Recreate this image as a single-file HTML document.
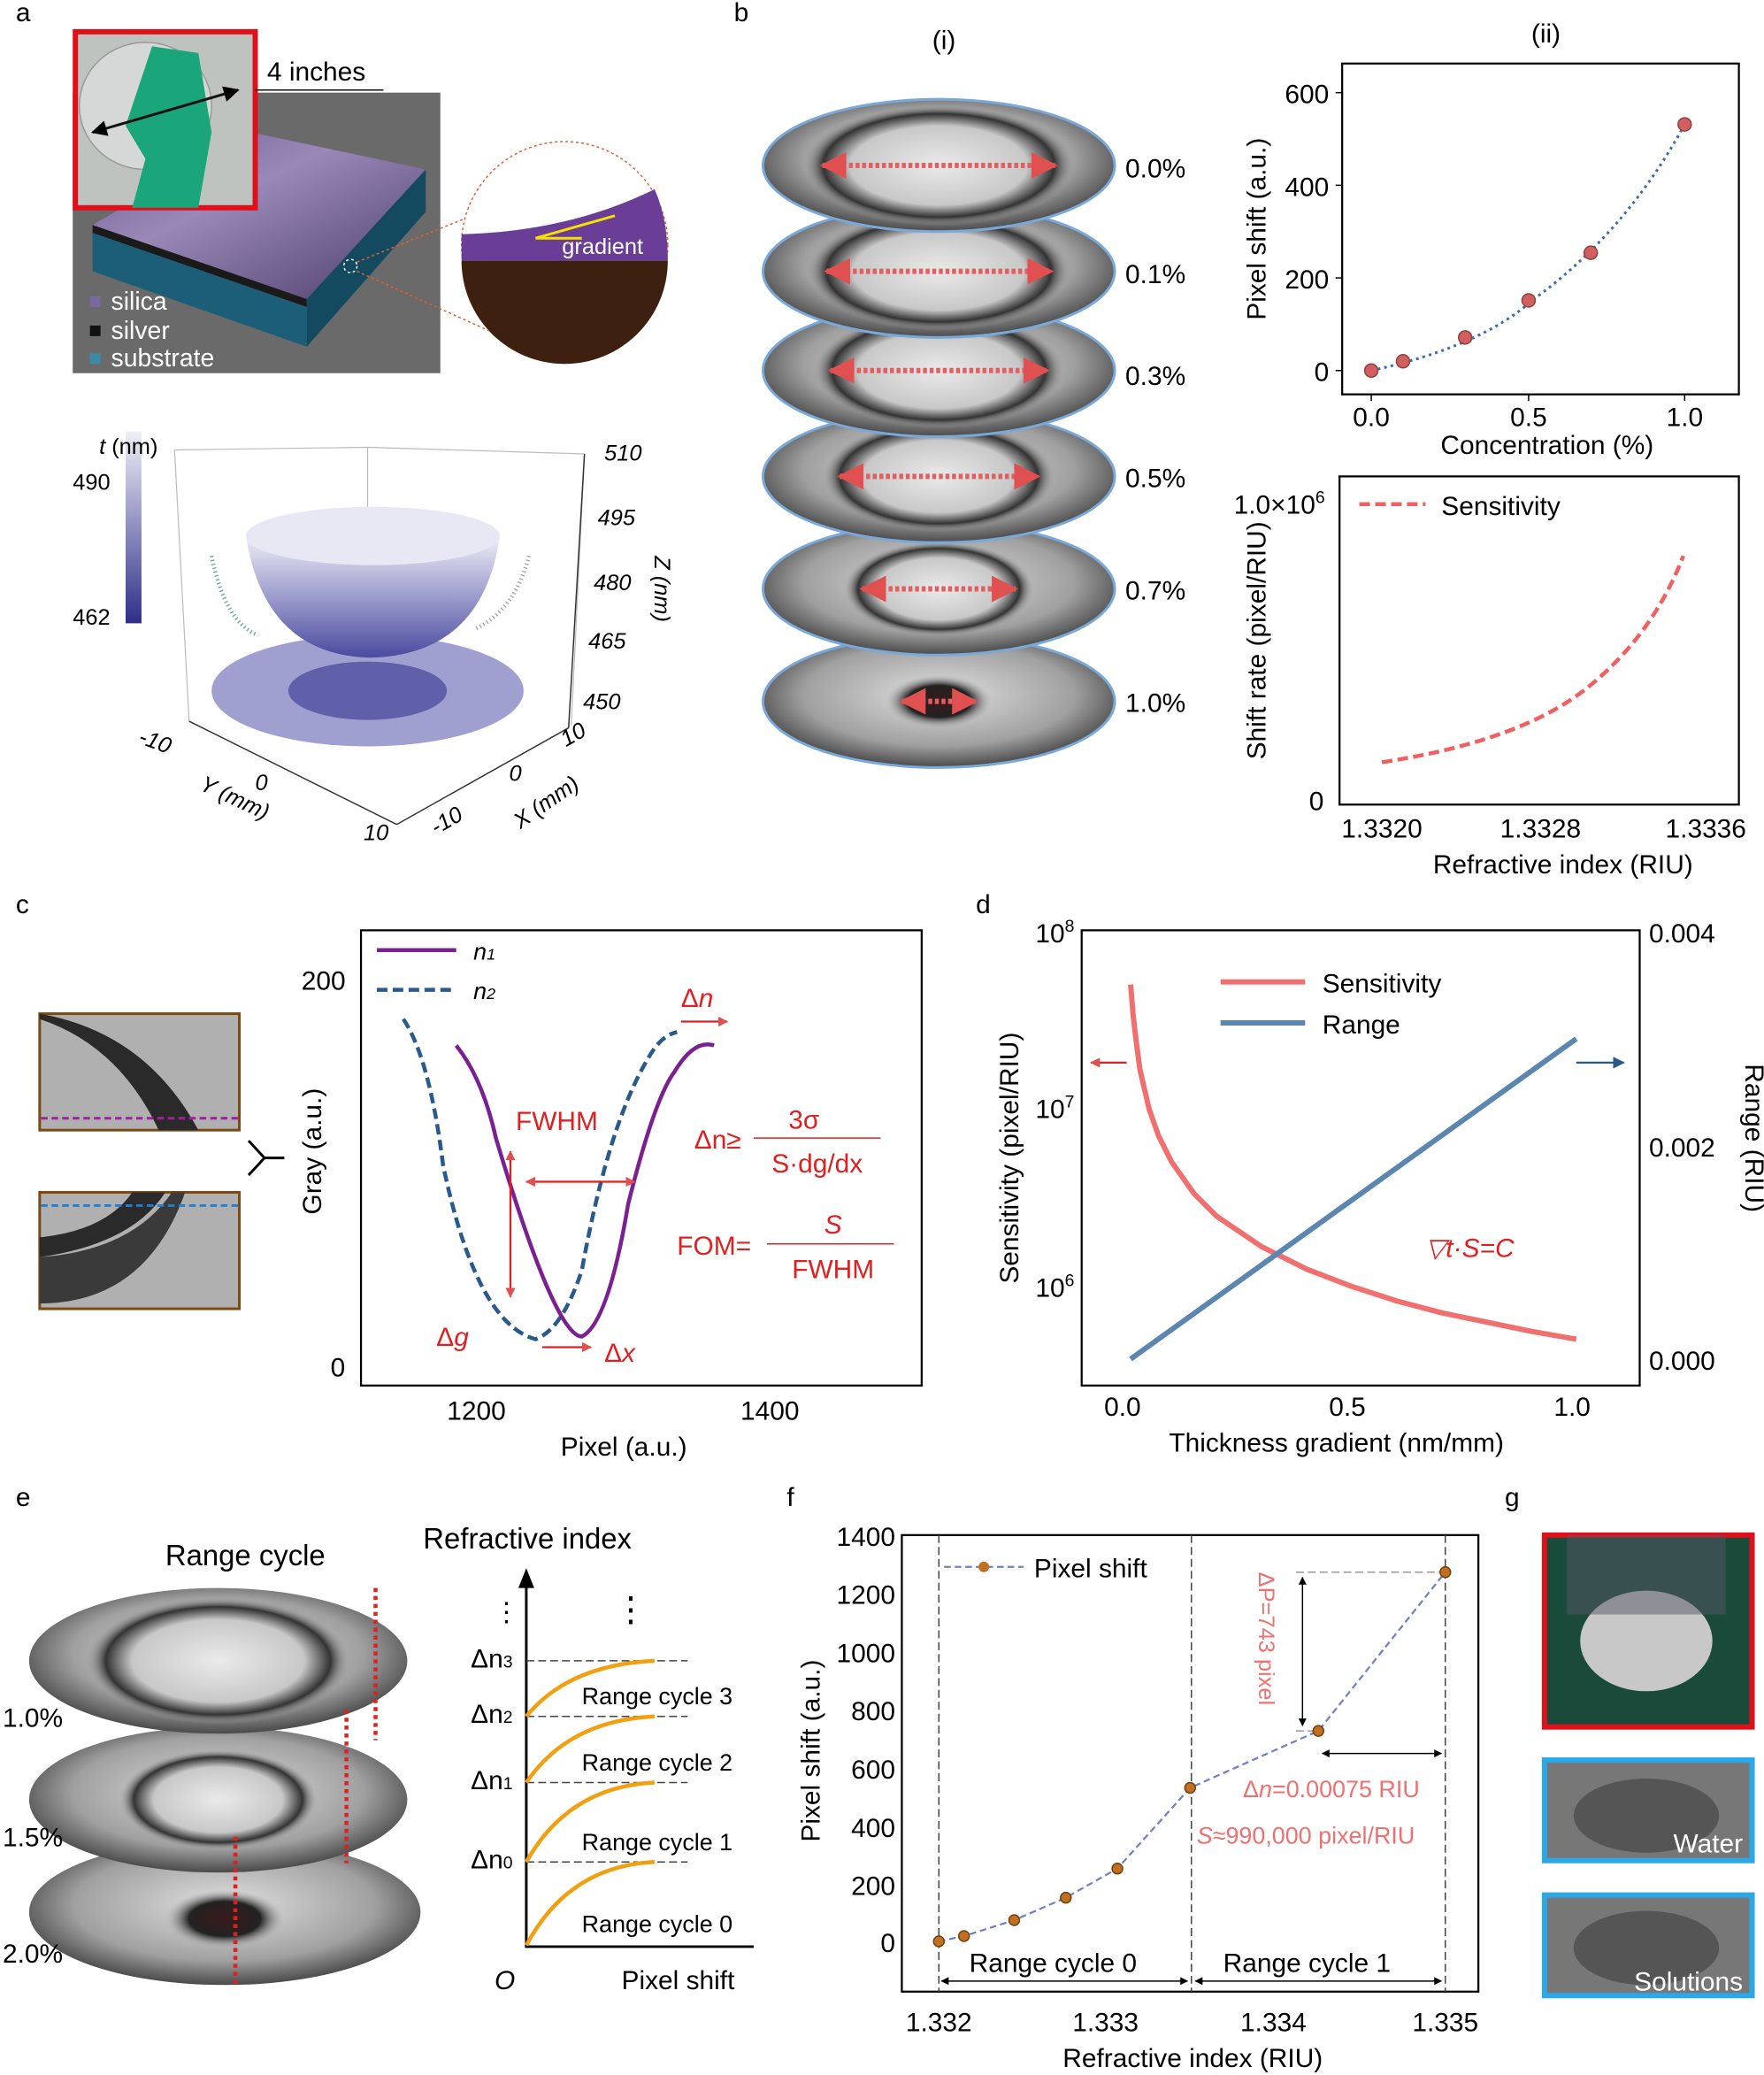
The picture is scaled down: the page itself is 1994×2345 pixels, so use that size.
<!DOCTYPE html><html><head><meta charset="utf-8"><style>html,body{margin:0;padding:0;background:#fff}svg{display:block}text{font-family:"Liberation Sans",sans-serif}</style></head><body>
<svg width="1994" height="2345" viewBox="0 0 1334 1568" preserveAspectRatio="none" xmlns="http://www.w3.org/2000/svg">
<defs>
<radialGradient id="plate" cx="50%" cy="45%" r="55%"><stop offset="0" stop-color="#e0e0e0"/><stop offset="0.7" stop-color="#a0a0a0"/><stop offset="1" stop-color="#4a4a4a"/></radialGradient>
<linearGradient id="bowl" x1="0" y1="0" x2="0" y2="1"><stop offset="0" stop-color="#eeeef8"/><stop offset="1" stop-color="#4a4aa0"/></linearGradient>
<linearGradient id="cbar" x1="0" y1="0" x2="0" y2="1"><stop offset="0" stop-color="#f0f0f8"/><stop offset="1" stop-color="#2e2e8a"/></linearGradient>
<linearGradient id="slab" x1="0" y1="0" x2="1" y2="1"><stop offset="0" stop-color="#6e5a90"/><stop offset="0.4" stop-color="#9a88b8"/><stop offset="1" stop-color="#4a3c6a"/></linearGradient>
<radialGradient id="ring" cx="50%" cy="50%" r="50%"><stop offset="0" stop-color="#eaeaea"/><stop offset="0.65" stop-color="#c8c8c8"/><stop offset="0.85" stop-color="#333"/><stop offset="1" stop-color="#aaa" stop-opacity="0"/></radialGradient>
<radialGradient id="spot" cx="50%" cy="50%" r="50%"><stop offset="0" stop-color="#3a1a1a"/><stop offset="0.6" stop-color="#222"/><stop offset="1" stop-color="#aaa" stop-opacity="0"/></radialGradient>
<marker id="ar" viewBox="0 0 10 10" refX="9" refY="5" markerWidth="5" markerHeight="5" orient="auto-start-reverse"><path d="M0,0 L10,5 L0,10 Z" fill="#e05050"/></marker>
<marker id="ak" viewBox="0 0 10 10" refX="9" refY="5" markerWidth="6" markerHeight="6" orient="auto-start-reverse"><path d="M0,0 L10,5 L0,10 Z" fill="#000"/></marker>
<marker id="ab" viewBox="0 0 10 10" refX="9" refY="5" markerWidth="6" markerHeight="6" orient="auto-start-reverse"><path d="M0,0 L10,5 L0,10 Z" fill="#2a5a8a"/></marker>
</defs>
<g font-size="20">
<text x="12" y="16">a</text><text x="555" y="16">b</text><text x="12" y="690">c</text><text x="738" y="690">d</text><text x="12" y="1138">e</text><text x="595" y="1138">f</text><text x="1138" y="1138">g</text>
</g>
<!-- panel a top -->
<rect x="55" y="70" width="278" height="212" fill="#6a6a6a"/>
<polygon points="70,170 190,100 322,128 232,226" fill="url(#slab)"/>
<polygon points="70,170 232,226 232,232 70,176" fill="#1a1a1a"/>
<polygon points="70,176 232,232 232,262 70,205" fill="#1c5e78"/>
<polygon points="232,226 322,128 322,160 232,262" fill="#144a60"/>
<rect x="57" y="24" width="136" height="133" fill="#bfc3c0" stroke="#e0101a" stroke-width="4"/>
<ellipse cx="110" cy="80" rx="50" ry="48" fill="#d5d8d6" stroke="#999"/>
<path d="M115,35 L150,40 L160,100 L150,157 L100,157 L110,120 L95,95 Z" fill="#1aa57a"/>
<line x1="70" y1="100" x2="180" y2="68" stroke="#111" stroke-width="2" marker-start="url(#ak)" marker-end="url(#ak)"/>
<line x1="193" y1="68" x2="290" y2="68" stroke="#111"/>
<text x="202" y="61" font-size="20">4 inches</text>
<circle cx="265" cy="201" r="5" fill="none" stroke="#fff" stroke-dasharray="2,2"/>
<circle cx="427" cy="185" r="78" fill="#fff" stroke="#e06030" stroke-dasharray="2,2"/>
<path d="M349,177 Q430,175 495,143 Q505,165 505,197 L349,197 Z" fill="#6a3e96"/>
<path d="M349,197 L505,197 A78,78 0 0 1 349,197 Z" fill="#3e2010"/>
<line x1="270" y1="198" x2="352" y2="165" stroke="#e06030" stroke-dasharray="2,2"/>
<line x1="270" y1="205" x2="370" y2="250" stroke="#e06030" stroke-dasharray="2,2"/>
<path d="M405,180 L465,163 M405,180 L440,180" stroke="#f5e000" stroke-width="2" fill="none"/>
<text x="425" y="192" font-size="17" fill="#fff">gradient</text>
<rect x="68" y="224" width="8" height="8" fill="#7a68a0"/><text x="84" y="234" font-size="19" fill="#fff">silica</text>
<rect x="68" y="246" width="8" height="8" fill="#111"/><text x="84" y="256" font-size="19" fill="#fff">silver</text>
<rect x="68" y="267" width="8" height="8" fill="#3a8aa8"/><text x="84" y="277" font-size="19" fill="#fff">substrate</text>
<!-- panel a 3D -->
<g stroke="#bbb" fill="none" stroke-width="0.8">
<polyline points="132,340 278,338 442,343"/><line x1="132" y1="340" x2="143" y2="545"/><line x1="278" y1="338" x2="278" y2="490"/><line x1="442" y1="343" x2="432" y2="548"/>
</g>
<g stroke="#333" fill="none" stroke-width="1">
<line x1="143" y1="545" x2="300" y2="623"/><line x1="300" y1="623" x2="430" y2="550"/><line x1="442" y1="343" x2="430" y2="550"/>
</g>
<rect x="95" y="326" width="12" height="145" fill="url(#cbar)"/>
<text x="75" y="343" font-size="17"><tspan font-style="italic">t</tspan> (nm)</text>
<text x="55" y="370" font-size="17">490</text><text x="55" y="472" font-size="17">462</text>
<ellipse cx="278" cy="522" rx="118" ry="42" fill="#8080c0" opacity="0.75"/>
<ellipse cx="278" cy="522" rx="60" ry="22" fill="#5050a0" opacity="0.8"/>
<path d="M186,405 Q200,495 280,497 Q365,495 378,405 Z" fill="url(#bowl)"/>
<ellipse cx="282" cy="405" rx="96" ry="22" fill="#e8e8f4"/>
<path d="M160,420 Q170,470 195,480" stroke="#7aaaa8" stroke-width="3" stroke-dasharray="1,2" fill="none"/>
<path d="M400,420 Q390,460 360,475" stroke="#aaa" stroke-width="3" stroke-dasharray="1,2" fill="none"/>
<g font-size="17" font-style="italic">
<text x="457" y="348">510</text><text x="452" y="397">495</text><text x="449" y="446">480</text><text x="445" y="490">465</text><text x="441" y="536">450</text>
<text x="105" y="565" transform="rotate(20 115 560)">-10</text><text x="193" y="597">0</text><text x="275" y="635">10</text>
<text x="150" y="603" transform="rotate(25 165 600)">Y (mm)</text>
<text x="325" y="627" transform="rotate(-30 335 620)">-10</text><text x="385" y="590">0</text><text x="426" y="563" transform="rotate(-30 430 560)">10</text>
<text x="385" y="620" transform="rotate(-35 400 610)">X (mm)</text>
<text x="490" y="425" transform="rotate(90 495 425)">Z (nm)</text>
</g>
<!-- panel b(i) -->
<text x="705" y="37" font-size="20">(i)</text>
<g>
<g transform="translate(710,530)"><ellipse rx="133" ry="50" fill="url(#plate)" stroke="#7aa8d8" stroke-width="2"/><ellipse rx="40" ry="20" fill="url(#spot)"/><line x1="-28" x2="28" stroke="#e06060" stroke-width="4" stroke-dasharray="3,2" marker-start="url(#ar)" marker-end="url(#ar)"/></g>
<g transform="translate(710,445)"><ellipse rx="133" ry="50" fill="url(#plate)" stroke="#7aa8d8" stroke-width="2"/><ellipse rx="72" ry="36" fill="url(#ring)"/><line x1="-58" x2="58" stroke="#e06060" stroke-width="4" stroke-dasharray="3,2" marker-start="url(#ar)" marker-end="url(#ar)"/></g>
<g transform="translate(710,360)"><ellipse rx="133" ry="50" fill="url(#plate)" stroke="#7aa8d8" stroke-width="2"/><ellipse rx="88" ry="42" fill="url(#ring)"/><line x1="-75" x2="75" stroke="#e06060" stroke-width="4" stroke-dasharray="3,2" marker-start="url(#ar)" marker-end="url(#ar)"/></g>
<g transform="translate(710,280)"><ellipse rx="133" ry="50" fill="url(#plate)" stroke="#7aa8d8" stroke-width="2"/><ellipse rx="95" ry="44" fill="url(#ring)"/><line x1="-82" x2="82" stroke="#e06060" stroke-width="4" stroke-dasharray="3,2" marker-start="url(#ar)" marker-end="url(#ar)"/></g>
<g transform="translate(710,205)"><ellipse rx="133" ry="50" fill="url(#plate)" stroke="#7aa8d8" stroke-width="2"/><ellipse rx="100" ry="45" fill="url(#ring)"/><line x1="-85" x2="85" stroke="#e06060" stroke-width="4" stroke-dasharray="3,2" marker-start="url(#ar)" marker-end="url(#ar)"/></g>
<g transform="translate(710,125)"><ellipse rx="133" ry="50" fill="url(#plate)" stroke="#7aa8d8" stroke-width="2"/><ellipse rx="103" ry="46" fill="url(#ring)"/><line x1="-88" x2="88" stroke="#e06060" stroke-width="4" stroke-dasharray="3,2" marker-start="url(#ar)" marker-end="url(#ar)"/></g>
</g>
<g font-size="20"><text x="851" y="134">0.0%</text><text x="851" y="214">0.1%</text><text x="851" y="291">0.3%</text><text x="851" y="368">0.5%</text><text x="851" y="453">0.7%</text><text x="851" y="538">1.0%</text></g>
<!-- b(ii) top -->
<text x="1158" y="32" font-size="20">(ii)</text>
<rect x="1015" y="48" width="300" height="250" fill="none" stroke="#000" stroke-width="1.5"/>
<g stroke="#000"><line x1="1010" y1="70" x2="1015" y2="70"/><line x1="1010" y1="140" x2="1015" y2="140"/><line x1="1010" y1="210" x2="1015" y2="210"/><line x1="1010" y1="280" x2="1015" y2="280"/><line x1="1037" y1="298" x2="1037" y2="303"/><line x1="1156" y1="298" x2="1156" y2="303"/><line x1="1274" y1="298" x2="1274" y2="303"/></g>
<g font-size="20" text-anchor="end"><text x="1005" y="78">600</text><text x="1005" y="148">400</text><text x="1005" y="218">200</text><text x="1005" y="288">0</text></g>
<g font-size="20" text-anchor="middle"><text x="1037" y="322">0.0</text><text x="1156" y="322">0.5</text><text x="1274" y="322">1.0</text><text x="1170" y="343">Concentration (%)</text></g>
<text x="957" y="173" font-size="20" text-anchor="middle" transform="rotate(-90 957 173)">Pixel shift (a.u.)</text>
<path d="M1037,280 Q1120,262 1160,226 Q1230,175 1274,94" fill="none" stroke="#3a6ab0" stroke-width="2" stroke-dasharray="2,3"/>
<g fill="#d06060" stroke="#904040"><circle cx="1037" cy="280" r="5"/><circle cx="1061" cy="273" r="5"/><circle cx="1108" cy="255" r="5"/><circle cx="1156" cy="227" r="5"/><circle cx="1203" cy="191" r="5"/><circle cx="1274" cy="94" r="5"/></g>
<!-- b(ii) bottom -->
<rect x="1013" y="360" width="302" height="248" fill="none" stroke="#000" stroke-width="1.5"/>
<text x="933" y="388" font-size="20">1.0×10<tspan font-size="13" dy="-8">6</tspan></text>
<text x="990" y="612" font-size="20">0</text>
<line x1="1028" y1="381" x2="1078" y2="381" stroke="#f06060" stroke-width="3" stroke-dasharray="8,4"/>
<text x="1090" y="389" font-size="20">Sensitivity</text>
<path d="M1045,576 Q1150,560 1200,520 Q1250,480 1273,420" fill="none" stroke="#f06060" stroke-width="3" stroke-dasharray="8,4"/>
<g font-size="20" text-anchor="middle"><text x="1045" y="633">1.3320</text><text x="1165" y="633">1.3328</text><text x="1290" y="633">1.3336</text><text x="1182" y="660">Refractive index (RIU)</text></g>
<text x="957" y="484" font-size="20" text-anchor="middle" transform="rotate(-90 957 484)">Shift rate (pixel/RIU)</text>
<!-- panel c -->
<rect x="30" y="766" width="151" height="88" fill="#b0b0b0" stroke="#7a4a10" stroke-width="2"/>
<path d="M30,770 Q90,790 120,854 L150,854 Q110,780 30,766 Z" fill="#2a2a2a"/>
<line x1="31" y1="845" x2="180" y2="845" stroke="#a020a0" stroke-width="2" stroke-dasharray="5,3"/>
<rect x="30" y="901" width="151" height="88" fill="#b0b0b0" stroke="#7a4a10" stroke-width="2"/>
<path d="M30,950 Q100,940 125,901 L100,901 Q80,930 30,935 Z" fill="#2a2a2a"/><path d="M30,950 Q100,945 130,901 L140,901 Q110,985 30,985 Z" fill="#3a3a3a"/>
<line x1="31" y1="911" x2="180" y2="911" stroke="#2080d0" stroke-width="2" stroke-dasharray="5,3"/>
<path d="M188,862 L200,875 L188,888 M200,875 L215,875" stroke="#000" stroke-width="2" fill="none"/>
<rect x="273" y="703" width="424" height="344" fill="none" stroke="#000" stroke-width="1.5"/>
<g font-size="20"><text x="228" y="748">200</text><text x="250" y="1040">0</text><text x="338" y="1073">1200</text><text x="560" y="1073">1400</text><text x="424" y="1100">Pixel (a.u.)</text></g>
<text x="243" y="870" font-size="20" text-anchor="middle" transform="rotate(-90 243 870)">Gray (a.u.)</text>
<line x1="285" y1="718" x2="345" y2="718" stroke="#7a2090" stroke-width="3"/><text x="358" y="725" font-size="18" font-style="italic">n<tspan font-size="12">1</tspan></text>
<line x1="285" y1="748" x2="345" y2="748" stroke="#2a5a8a" stroke-width="3" stroke-dasharray="8,4"/><text x="358" y="755" font-size="18" font-style="italic">n<tspan font-size="12">2</tspan></text>
<path d="M305,770 Q325,800 335,880 Q360,1000 405,1012 Q425,1005 440,960 Q460,850 490,800 Q500,782 512,780" fill="none" stroke="#2a5a8a" stroke-width="3" stroke-dasharray="8,4"/>
<path d="M345,790 Q365,815 375,860 Q420,1010 440,1010 Q460,1000 475,910 Q495,830 510,810 Q525,785 540,790" fill="none" stroke="#7a2090" stroke-width="3"/>
<g stroke="#e02020" stroke-width="1.5" fill="#e02020">
<line x1="386" y1="870" x2="386" y2="980" marker-start="url(#ar)" marker-end="url(#ar)"/><line x1="398" y1="893" x2="480" y2="893" marker-start="url(#ar)" marker-end="url(#ar)"/><line x1="410" y1="1018" x2="447" y2="1018" marker-end="url(#ar)"/><line x1="515" y1="772" x2="550" y2="772" marker-end="url(#ar)"/>
</g>
<text x="390" y="854" font-size="20" fill="#e02020">FWHM</text>
<text x="515" y="761" font-size="20" fill="#e02020">Δ<tspan font-style="italic">n</tspan></text>
<text x="330" y="1017" font-size="20" fill="#e02020">Δ<tspan font-style="italic">g</tspan></text>
<text x="457" y="1029" font-size="20" fill="#e02020">Δ<tspan font-style="italic">x</tspan></text>
<g fill="#e02020" font-size="20"><text x="525" y="868">Δn≥</text><text x="608" y="853" text-anchor="middle">3σ</text><line x1="570" y1="860" x2="666" y2="860" stroke="#e02020"/><text x="618" y="886" text-anchor="middle">S·dg/dx</text>
<text x="512" y="948">FOM=</text><text x="630" y="932" text-anchor="middle" font-style="italic">S</text><line x1="580" y1="940" x2="676" y2="940" stroke="#e02020"/><text x="630" y="966" text-anchor="middle">FWHM</text></g>
<!-- panel d -->
<rect x="818" y="703" width="422" height="344" fill="none" stroke="#000" stroke-width="1.5"/>
<g font-size="20"><text x="783" y="712">10<tspan font-size="13" dy="-8">8</tspan></text><text x="783" y="845">10<tspan font-size="13" dy="-8">7</tspan></text><text x="783" y="980">10<tspan font-size="13" dy="-8">6</tspan></text>
<text x="1247" y="712">0.004</text><text x="1247" y="874">0.002</text><text x="1247" y="1035">0.000</text>
<text x="835" y="1070">0.0</text><text x="1005" y="1070">0.5</text><text x="1175" y="1070">1.0</text><text x="884" y="1097">Thickness gradient (nm/mm)</text></g>
<text x="770" y="875" font-size="20" text-anchor="middle" transform="rotate(-90 770 875)">Sensitivity (pixel/RIU)</text>
<text x="1320" y="860" font-size="20" text-anchor="middle" transform="rotate(90 1320 860)">Range (RIU)</text>
<line x1="923" y1="742" x2="987" y2="742" stroke="#f07070" stroke-width="4"/><text x="1000" y="750" font-size="20">Sensitivity</text>
<line x1="923" y1="773" x2="987" y2="773" stroke="#5a86b0" stroke-width="4"/><text x="1000" y="781" font-size="20">Range</text>
<polyline points="855,744 857,768 859,785 862,808 869,838 876,858 886,878 903,902 920,919 954,942 988,959 1022,972 1056,983 1090,992 1124,999 1158,1006 1192,1012" fill="none" stroke="#f07070" stroke-width="4" stroke-linejoin="round"/>
<line x1="855" y1="1027" x2="1192" y2="785" stroke="#5a86b0" stroke-width="4"/>
<line x1="852" y1="803" x2="825" y2="803" stroke="#e02020" stroke-width="1.5" marker-end="url(#ar)"/><line x1="1192" y1="803" x2="1228" y2="803" stroke="#2a5a8a" stroke-width="1.5" marker-end="url(#ab)"/>
<text x="1078" y="950" font-size="20" fill="#e02020" font-style="italic">▽t·S=C</text>
<!-- panel e -->
<text x="125" y="1183" font-size="22">Range cycle</text><text x="320" y="1170" font-size="22">Refractive index</text>
<g transform="translate(170,1445)"><ellipse rx="148" ry="55" fill="url(#plate)"/><ellipse rx="45" ry="22" fill="url(#spot)" cy="5"/></g>
<g transform="translate(165,1360)"><ellipse rx="143" ry="55" fill="url(#plate)"/><ellipse rx="75" ry="38" fill="url(#ring)"/></g>
<g transform="translate(165,1255)"><ellipse rx="143" ry="55" fill="url(#plate)"/><ellipse rx="100" ry="48" fill="url(#ring)"/></g>
<g stroke="#e02020" stroke-width="3" stroke-dasharray="3,3"><line x1="284" y1="1200" x2="284" y2="1315"/><line x1="262" y1="1292" x2="262" y2="1408"/><line x1="178" y1="1388" x2="178" y2="1500"/></g>
<g font-size="20"><text x="2" y="1305">1.0%</text><text x="2" y="1395">1.5%</text><text x="2" y="1483">2.0%</text></g>
<line x1="398" y1="1472" x2="398" y2="1195" stroke="#000" stroke-width="2"/><polygon points="392,1200 398,1185 404,1200"/>
<line x1="398" y1="1471" x2="570" y2="1471" stroke="#000" stroke-width="2"/>
<g stroke="#444" stroke-dasharray="6,3"><line x1="398" y1="1255" x2="520" y2="1255"/><line x1="398" y1="1297" x2="520" y2="1297"/><line x1="398" y1="1347" x2="520" y2="1347"/><line x1="398" y1="1407" x2="520" y2="1407"/></g>
<g stroke="#f0a010" stroke-width="3" fill="none"><path d="M398,1297 Q430,1258 495,1255"/><path d="M398,1347 Q430,1300 495,1297"/><path d="M398,1407 Q430,1350 495,1347"/><path d="M398,1470 Q430,1410 495,1407"/></g>
<g font-size="20"><text x="356" y="1260">Δn<tspan font-size="13">3</tspan></text><text x="356" y="1302">Δn<tspan font-size="13">2</tspan></text><text x="356" y="1352">Δn<tspan font-size="13">1</tspan></text><text x="356" y="1412">Δn<tspan font-size="13">0</tspan></text>
<text x="440" y="1288" font-size="18">Range cycle 3</text><text x="440" y="1338" font-size="18">Range cycle 2</text><text x="440" y="1398" font-size="18">Range cycle 1</text><text x="440" y="1460" font-size="18">Range cycle 0</text>
<text x="374" y="1503" font-style="italic">O</text><text x="470" y="1503">Pixel shift</text>
<text x="373" y="1225">⋮</text><text x="464" y="1225" font-size="26">⋮</text></g>
<!-- panel f -->
<rect x="682" y="1160" width="436" height="345" fill="none" stroke="#000" stroke-width="1.5"/>
<g font-size="20" text-anchor="end"><text x="677" y="1168">1400</text><text x="677" y="1212">1200</text><text x="677" y="1256">1000</text><text x="677" y="1300">800</text><text x="677" y="1344">600</text><text x="677" y="1388">400</text><text x="677" y="1432">200</text><text x="677" y="1475">0</text></g>
<g font-size="20" text-anchor="middle"><text x="710" y="1535">1.332</text><text x="836" y="1535">1.333</text><text x="963" y="1535">1.334</text><text x="1093" y="1535">1.335</text><text x="902" y="1562">Refractive index (RIU)</text></g>
<text x="620" y="1323" font-size="20" text-anchor="middle" transform="rotate(-90 620 1323)">Pixel shift (a.u.)</text>
<g stroke="#444" stroke-dasharray="6,3"><line x1="710" y1="1160" x2="710" y2="1505"/><line x1="901" y1="1160" x2="901" y2="1505"/><line x1="1093" y1="1160" x2="1093" y2="1505"/><line x1="980" y1="1188" x2="1093" y2="1188" stroke="#999"/><line x1="980" y1="1308" x2="997" y2="1308" stroke="#999"/></g>
<line x1="714" y1="1184" x2="774" y2="1184" stroke="#7080c8" stroke-width="1.5" stroke-dasharray="5,3"/><circle cx="744" cy="1184" r="4" fill="#c07020"/>
<text x="782" y="1192" font-size="20">Pixel shift</text>
<polyline points="710,1467 729,1463 767,1451 806,1434 845,1412 900,1351 997,1308 1093,1188" fill="none" stroke="#7080c8" stroke-width="1.5" stroke-dasharray="5,3"/>
<g fill="#c07020" stroke="#704010"><circle cx="710" cy="1467" r="4"/><circle cx="729" cy="1463" r="4"/><circle cx="767" cy="1451" r="4"/><circle cx="806" cy="1434" r="4"/><circle cx="845" cy="1412" r="4"/><circle cx="900" cy="1351" r="4"/><circle cx="997" cy="1308" r="4"/><circle cx="1093" cy="1188" r="4"/></g>
<line x1="985" y1="1192" x2="985" y2="1304" stroke="#000" marker-start="url(#ak)" marker-end="url(#ak)"/><line x1="1000" y1="1325" x2="1090" y2="1325" stroke="#000" marker-start="url(#ak)" marker-end="url(#ak)"/>
<line x1="712" y1="1497" x2="898" y2="1497" stroke="#000" marker-start="url(#ak)" marker-end="url(#ak)"/><line x1="904" y1="1497" x2="1090" y2="1497" stroke="#000" marker-start="url(#ak)" marker-end="url(#ak)"/>
<g font-size="20"><text x="733" y="1490">Range cycle 0</text><text x="925" y="1490">Range cycle 1</text></g>
<text x="950" y="1190" font-size="17" fill="#f07070" transform="rotate(90 952 1190)">ΔP=743 pixel</text>
<text x="940" y="1358" font-size="18" fill="#f07070">Δ<tspan font-style="italic">n</tspan>=0.00075 RIU</text>
<text x="905" y="1393" font-size="18" fill="#f07070"><tspan font-style="italic">S</tspan>≈990,000 pixel/RIU</text>
<!-- panel g -->
<rect x="1168" y="1160" width="157" height="145" fill="#1a4a3a" stroke="#e0101a" stroke-width="4"/>
<ellipse cx="1245" cy="1240" rx="50" ry="38" fill="#c8c8c8"/><rect x="1185" y="1160" width="120" height="60" fill="#556" opacity="0.5"/>
<rect x="1168" y="1330" width="157" height="76" fill="#777" stroke="#2aa8e8" stroke-width="4"/>
<ellipse cx="1245" cy="1372" rx="55" ry="28" fill="#555"/>
<text x="1318" y="1400" font-size="20" fill="#fff" text-anchor="end">Water</text>
<rect x="1168" y="1432" width="157" height="76" fill="#777" stroke="#2aa8e8" stroke-width="4"/>
<ellipse cx="1245" cy="1472" rx="55" ry="28" fill="#555"/>
<text x="1318" y="1504" font-size="20" fill="#fff" text-anchor="end">Solutions</text>
</svg></body></html>
